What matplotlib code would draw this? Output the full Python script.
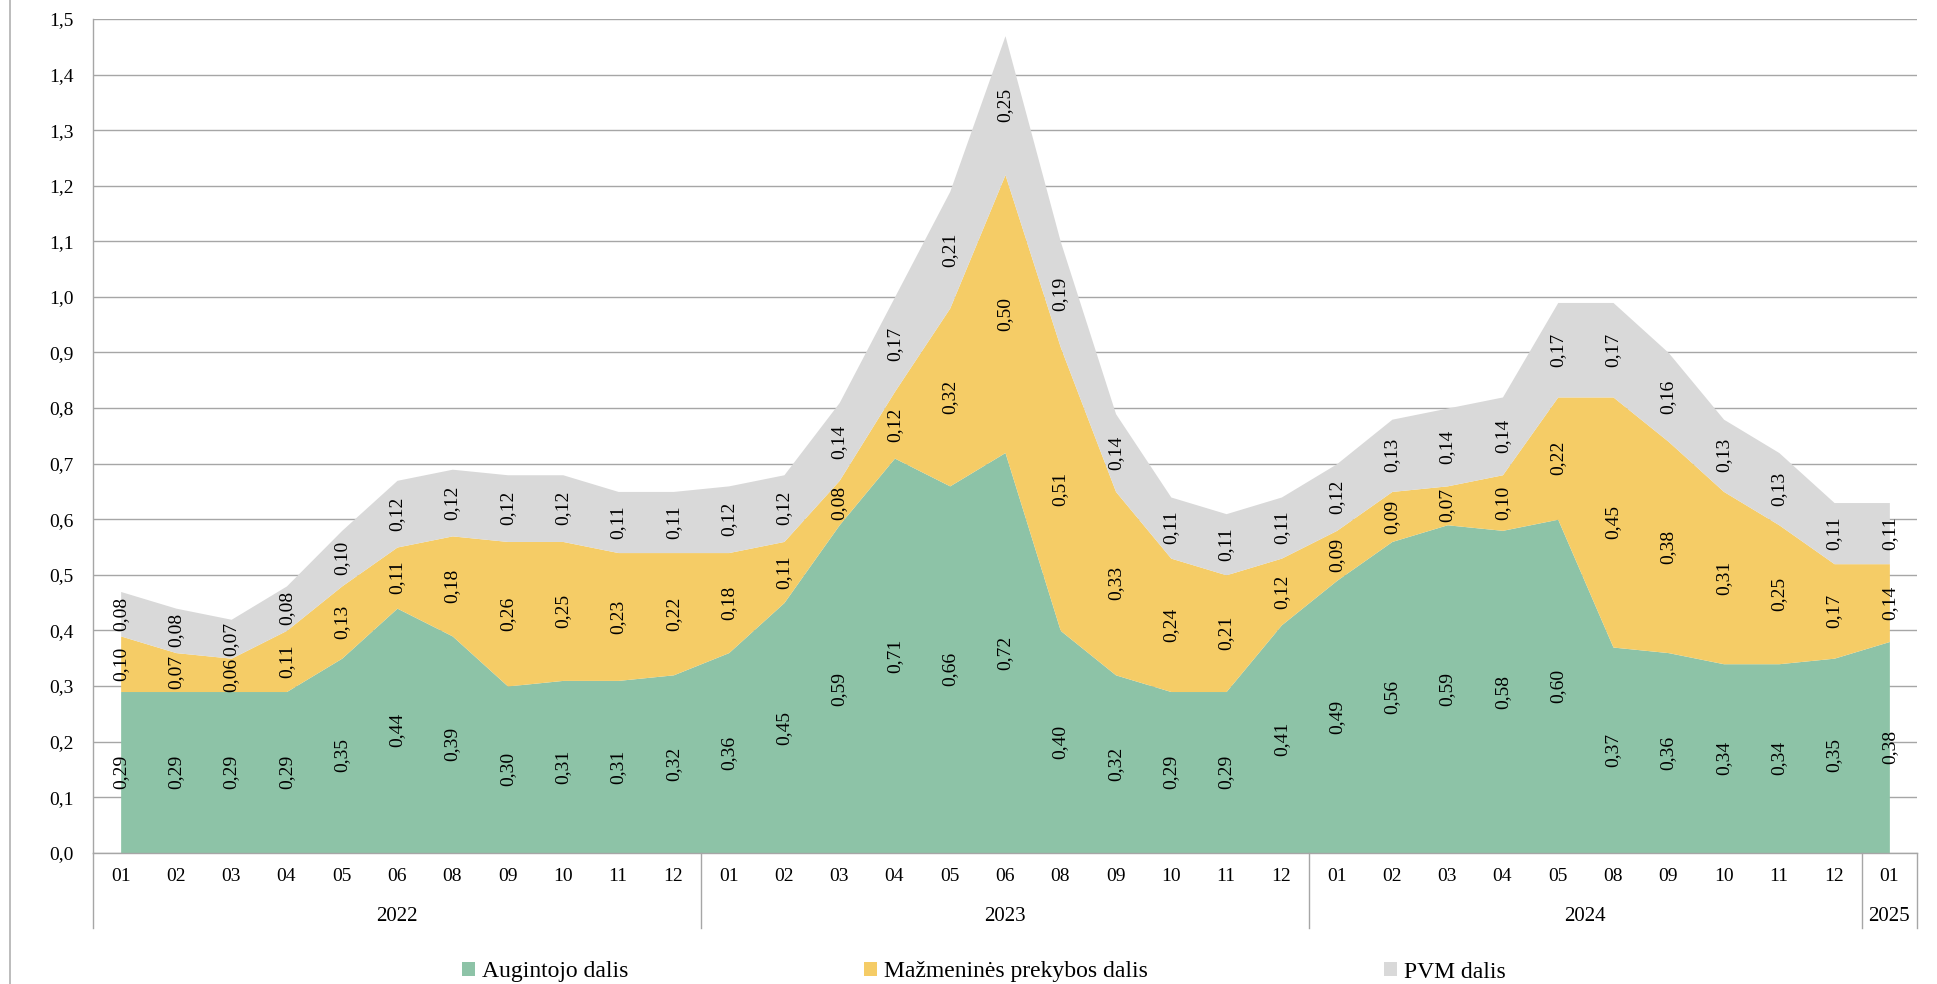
import numpy as np
import matplotlib.pyplot as plt
from matplotlib.patches import Patch
from matplotlib.lines import Line2D

plt.rcParams['font.family'] = ['Liberation Serif', 'DejaVu Serif']

# categories: months grouped by year (no July / some months missing)
years = ["2022", "2023", "2024", "2025"]
months_2022 = ["01", "02", "03", "04", "05", "06", "08", "09", "10", "11", "12"]
months_2023 = ["01", "02", "03", "04", "05", "06", "08", "09", "10", "11", "12"]
months_2024 = ["01", "02", "03", "04", "05", "08", "09", "10", "11", "12"]
months_2025 = ["01"]

# series values (EUR)
augintojo = [0.29, 0.29, 0.29, 0.29, 0.35, 0.44, 0.39, 0.30, 0.31, 0.31, 0.32,
             0.36, 0.45, 0.59, 0.71, 0.66, 0.72, 0.40, 0.32, 0.29, 0.29, 0.41,
             0.49, 0.56, 0.59, 0.58, 0.60, 0.37, 0.36, 0.34, 0.34, 0.35,
             0.38]
mazmenines = [0.10, 0.07, 0.06, 0.11, 0.13, 0.11, 0.18, 0.26, 0.25, 0.23, 0.22,
              0.18, 0.11, 0.08, 0.12, 0.32, 0.50, 0.51, 0.33, 0.24, 0.21, 0.12,
              0.09, 0.09, 0.07, 0.10, 0.22, 0.45, 0.38, 0.31, 0.25, 0.17,
              0.14]
pvm = [0.08, 0.08, 0.07, 0.08, 0.10, 0.12, 0.12, 0.12, 0.12, 0.11, 0.11,
       0.12, 0.12, 0.14, 0.17, 0.21, 0.25, 0.19, 0.14, 0.11, 0.11, 0.11,
       0.12, 0.13, 0.14, 0.14, 0.17, 0.17, 0.16, 0.13, 0.13, 0.11,
       0.11]

series_names = ["Augintojo dalis", "Mažmeninės prekybos dalis", "PVM dalis"]
colors = ["#8DC3A7", "#F5CC66", "#D9D9D9"]
grey = "#a6a6a6"

groups = [months_2022, months_2023, months_2024, months_2025]
month_labels = [m for g in groups for m in g]
n = len(month_labels)
x = np.arange(n)

fig = plt.figure(figsize=(19.37, 9.84), dpi=100)
ax = fig.add_axes([93 / 1937, 1 - 852.7 / 984, (1917 - 93) / 1937, (852.7 - 19) / 984])

##stacked areas + labels
base = np.zeros(n)
for vals, col in zip([augintojo, mazmenines, pvm], colors):
    vals = np.array(vals)
    ax.fill_between(x, base, base + vals, color=col, lw=0, zorder=2)
    for i in range(n):
        ax.text(x[i], base[i] + vals[i] / 2, f"{vals[i]:.2f}".replace(".", ","),
                rotation=90, ha="center", va="center", fontsize=14, zorder=5)
    base = base + vals

ax.set_xlim(-0.5, n - 0.5)
ax.set_ylim(0, 1.5)
yt = np.arange(0, 1.51, 0.1)
ax.set_yticks(yt)
ax.set_yticklabels([f"{t:.1f}".replace(".", ",") for t in yt], fontsize=14)
ax.tick_params(axis="y", length=0, pad=14)
ax.set_xticks([])
ax.grid(axis="y", color=grey, lw=1.0, zorder=0)
ax.set_axisbelow(True)
for s in ["top", "right"]:
    ax.spines[s].set_visible(False)
for s in ["left", "bottom"]:
    ax.spines[s].set_color(grey)
    ax.spines[s].set_linewidth(1.0)

##multi level category axis
trans = ax.get_xaxis_transform()
for i, lab in enumerate(month_labels):
    ax.text(x[i], -0.029, lab, transform=trans, ha="center", va="center", fontsize=14)

start = 0
bounds = [-0.5]
for yr, g in zip(years, groups):
    mid = start + (len(g) - 1) / 2
    ax.text(mid, -0.076, yr, transform=trans, ha="center", va="center", fontsize=15)
    start += len(g)
    bounds.append(start - 0.5)
for b in bounds:
    ax.plot([b, b], [0, -0.090], transform=trans, color=grey, lw=1.0, clip_on=False)

# outer border line on the left
fig.add_artist(Line2D([10 / 1937, 10 / 1937], [0, 1], color="#b0b0b0", lw=1.2))

handles = [Patch(facecolor=c, edgecolor="none") for c in colors]
fig.legend(handles, series_names, loc="center", bbox_to_anchor=(0.508, 1 - 972 / 984),
           ncol=3, frameon=False, fontsize=17, handlelength=0.55, handleheight=0.55,
           handletextpad=0.3, columnspacing=10)

fig.savefig("out.png", dpi=100)
